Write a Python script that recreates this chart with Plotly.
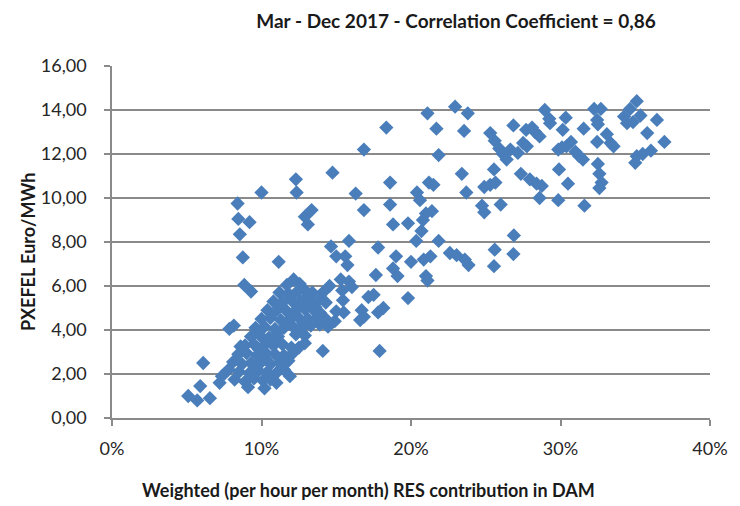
import plotly.graph_objects as go

# RES share (%) and PXEFEL price (Euro/MWh)
res_share_pct = [
    # sparse / outlying points
    5.1, 5.7, 5.9, 6.55, 6.1, 7.2, 7.35, 7.8,
    7.85, 8.15, 8.6,
    8.85, 9.3, 8.75, 8.55, 8.4, 8.45, 9.2, 10.0, 11.15,
    12.3, 12.35, 12.9, 13.35, 13.1,
    14.75, 16.85, 18.35,
    16.3, 16.85,
    14.65, 15.85, 15.0, 15.6, 15.75, 15.3, 15.85, 16.05, 15.4,
    12.15, 12.85,
    14.1, 14.55, 14.3, 13.9,
    15.0, 15.5, 15.45,
    16.7, 17.15, 17.5, 17.8, 18.15, 16.85, 16.6,
    17.9, 14.1, 12.5, 11.9,
    17.8, 17.65, 19.0, 18.8, 19.1, 19.8, 20.0, 20.85, 21.3, 21.0, 21.1,
    20.35, 21.85, 22.6, 23.05, 23.6, 23.85,
    18.6, 18.6, 18.8, 19.8, 20.4, 20.6, 21.0, 21.4, 20.8, 20.7, 21.2, 21.5,
    21.1, 21.7, 22.95, 23.8, 23.55, 21.85, 23.4, 23.7, 24.75, 24.9,
    25.55, 24.9, 25.3, 25.65, 26.0,
    26.88, 26.85, 25.6, 25.55,
    25.3, 25.6, 25.9, 26.15, 26.4, 26.85,
    26.65, 27.15, 27.5, 27.75, 27.7, 28.1, 28.3, 28.6,
    28.95, 29.25, 29.3,
    27.35, 27.95, 28.4, 28.75, 28.6,
    30.35, 30.15, 29.85, 30.1, 30.4, 30.7, 31.0, 31.25, 31.5,
    31.55, 29.9, 30.5, 29.85, 31.6,
    32.25, 32.7, 32.45, 32.5, 32.45, 33.1, 33.35, 33.55,
    32.5, 32.6, 32.75, 32.6,
    34.25, 34.65, 35.1, 35.35, 34.85, 34.45,
    35.8, 36.45, 36.95,
    35.0, 35.1, 35.5, 36.05,
    # dense cluster
    9.1, 10.2,
    8.2, 8.9, 9.5, 10.1, 10.6, 11.0,
    8.5, 9.2, 9.8, 10.4, 11.0, 11.5,
    8.1, 8.7, 9.3, 10.0, 10.6, 11.2, 11.8,
    8.45, 9.0, 9.7, 10.3, 10.9, 11.5, 12.1,
    8.9, 9.5, 10.1, 10.8, 11.4, 12.0, 12.9,
    9.3, 9.9, 10.5, 11.1, 12.3, 12.9,
    9.6, 10.2, 10.9, 11.5, 12.1, 12.7, 13.3, 13.9, 14.45,
    10.0, 10.6, 11.3, 11.9, 12.5, 13.1, 13.7, 14.3, 14.9,
    10.4, 11.1, 11.7, 12.3, 12.9, 13.5,
    10.8, 11.4, 12.0, 12.6, 13.2, 13.8,
    11.2, 11.8, 12.4, 13.4,
    11.7, 12.55,
    # extra points filling the core of the cluster
    9.85, 10.45, 11.05, 10.7, 11.3, 11.9, 12.45, 13.0, 11.6, 12.2, 12.8, 13.6, 10.25, 9.55,
]

pxefel = [
    1.0, 0.8, 1.45, 0.9, 2.5, 1.6, 1.9, 2.2,
    4.05, 4.2, 3.25,
    6.05, 5.75, 7.3, 8.35, 9.75, 9.05, 8.9, 10.25, 7.1,
    10.85, 10.25, 9.15, 9.45, 8.8,
    11.15, 12.2, 13.2,
    10.2, 9.45,
    7.8, 8.05, 7.35, 7.35, 6.95, 6.3, 6.2, 5.95, 5.8,
    6.3, 5.85,
    5.7, 6.0, 5.25, 4.8,
    4.85, 4.8, 5.35,
    4.9, 5.5, 5.6, 4.8, 5.0, 4.6, 4.45,
    3.05, 3.05, 3.2, 1.9,
    7.75, 6.5, 7.35, 6.8, 6.45, 5.45, 7.1, 7.2, 7.35, 6.45, 6.25,
    8.05, 8.05, 7.5, 7.4, 7.2, 6.95,
    10.7, 9.7, 8.8, 8.85, 10.25, 9.9, 9.3, 9.4, 9.0, 8.5, 10.7, 10.6,
    13.85, 13.15, 14.15, 13.85, 13.05, 11.95, 11.1, 10.25, 9.65, 9.35,
    11.3, 10.5, 10.6, 10.7, 9.7,
    8.3, 7.45, 7.65, 6.9,
    12.95, 12.6, 12.25, 12.0, 11.75, 13.3,
    12.2, 12.05, 12.5, 12.35, 13.1, 13.2, 13.0, 12.8,
    14.0, 13.6, 13.4,
    11.1, 10.85, 10.65, 10.55, 10.0,
    13.65, 13.1, 12.2, 12.3, 12.35, 12.55, 12.1, 11.9, 11.75,
    13.15, 11.3, 10.65, 9.9, 9.65,
    14.05, 14.05, 13.55, 13.35, 12.55, 12.9, 12.5, 12.35,
    11.55, 11.1, 10.7, 10.45,
    13.7, 14.05, 14.4, 13.75, 13.45, 13.4,
    12.95, 13.55, 12.55,
    11.6, 11.9, 12.0, 12.15,
    # dense cluster
    1.4, 1.35,
    1.75, 1.65, 1.8, 1.7, 1.75, 1.6,
    2.1, 2.05, 2.15, 2.1, 2.05, 2.2,
    2.55, 2.45, 2.5, 2.55, 2.45, 2.5, 2.6,
    2.9, 2.95, 2.85, 2.95, 2.9, 2.85, 2.95,
    3.3, 3.35, 3.25, 3.3, 3.35, 3.2, 3.4,
    3.7, 3.75, 3.65, 3.7, 3.8, 3.75,
    4.1, 4.15, 4.05, 4.1, 4.15, 4.1, 4.2, 4.25, 4.15,
    4.5, 4.55, 4.45, 4.5, 4.55, 4.5, 4.55, 4.5, 4.4,
    4.9, 4.95, 4.85, 4.9, 4.95, 4.9,
    5.3, 5.25, 5.35, 5.3, 5.3, 5.35,
    5.7, 5.65, 5.75, 5.7,
    6.05, 6.1,
    # extra points filling the core of the cluster
    3.1, 3.5, 3.9, 4.7, 5.1, 5.5, 5.05, 5.5, 4.3, 4.7, 4.3, 5.05, 2.7, 2.3,
]

x_ticks = [0, 0.1, 0.2, 0.3, 0.4]
y_ticks = [0, 2, 4, 6, 8, 10, 12, 14, 16]

FONT = "Lato"
GRID = "#8a8a8a"
BLUE = "#4a7ebb"

# The page body adds an 8 px margin; the figure is sized and placed to compensate.
OFF = 8
W, H = 740 - OFF, 506 - OFF
L, R, T = 112 - OFF, 22, 66 - OFF
B = H - (418.3 - OFF)
PW, PH = W - L - R, H - T - B


def px_to_paper(px, py):
    """page-pixel position -> paper coordinates"""
    fx, fy = px - OFF, py - OFF
    return (fx - L) / PW, (H - B - fy) / PH


xt_x, xt_y = px_to_paper(372, 490)
yt_x, yt_y = px_to_paper(27, 252)

fig = go.Figure(
    go.Scatter(
        x=[v / 100 for v in res_share_pct],
        y=pxefel,
        mode="markers",
        marker=dict(symbol="diamond", size=11, color=BLUE, line=dict(width=0)),
        hoverinfo="x+y",
    )
)

fig.update_layout(
    width=W,
    height=H,
    margin=dict(l=L, r=R, t=T, b=B, pad=0),
    paper_bgcolor="white",
    plot_bgcolor="white",
    separators=",.",
    showlegend=False,
    font=dict(family=FONT, color="#262626"),
    title=dict(
        text="<b>Mar - Dec 2017 - Correlation Coefficient = 0,86</b>",
        x=(456 - OFF) / W,
        xref="container",
        xanchor="center",
        y=1 - (21 - OFF) / H,
        yref="container",
        yanchor="middle",
        font=dict(family=FONT, size=19, color="#1a1a1a"),
    ),
    annotations=[
        dict(
            text="<b>Weighted (per hour per month) RES contribution in DAM</b>",
            xref="paper", yref="paper",
            x=xt_x, y=xt_y,
            xanchor="center", yanchor="middle",
            showarrow=False,
            font=dict(family=FONT, size=18, color="#1a1a1a"),
        ),
        dict(
            text="<b>PXEFEL Euro/MWh</b>",
            xref="paper", yref="paper",
            x=yt_x, y=yt_y,
            xanchor="center", yanchor="middle",
            textangle=-90,
            showarrow=False,
            font=dict(family=FONT, size=18, color="#1a1a1a"),
        ),
    ],
)

fig.update_xaxes(
    range=[0, 0.4],
    tickvals=x_ticks,
    tickformat=".0%",
    showgrid=False,
    zeroline=False,
    showline=True,
    linecolor=GRID,
    linewidth=1.5,
    ticks="outside",
    ticklen=6,
    tickwidth=1.5,
    tickcolor=GRID,
    tickfont=dict(family=FONT, size=18, color="#262626"),
    ticklabelstandoff=8,
)

fig.update_yaxes(
    range=[0, 16],
    tickvals=y_ticks,
    tickformat=".2f",
    showgrid=True,
    gridcolor=GRID,
    gridwidth=1.5,
    zeroline=False,
    showline=True,
    linecolor=GRID,
    linewidth=1.5,
    ticks="outside",
    ticklen=6,
    tickwidth=1.5,
    tickcolor=GRID,
    tickfont=dict(family=FONT, size=18, color="#262626"),
    ticklabelstandoff=14,
)

fig.write_html("out.html")
